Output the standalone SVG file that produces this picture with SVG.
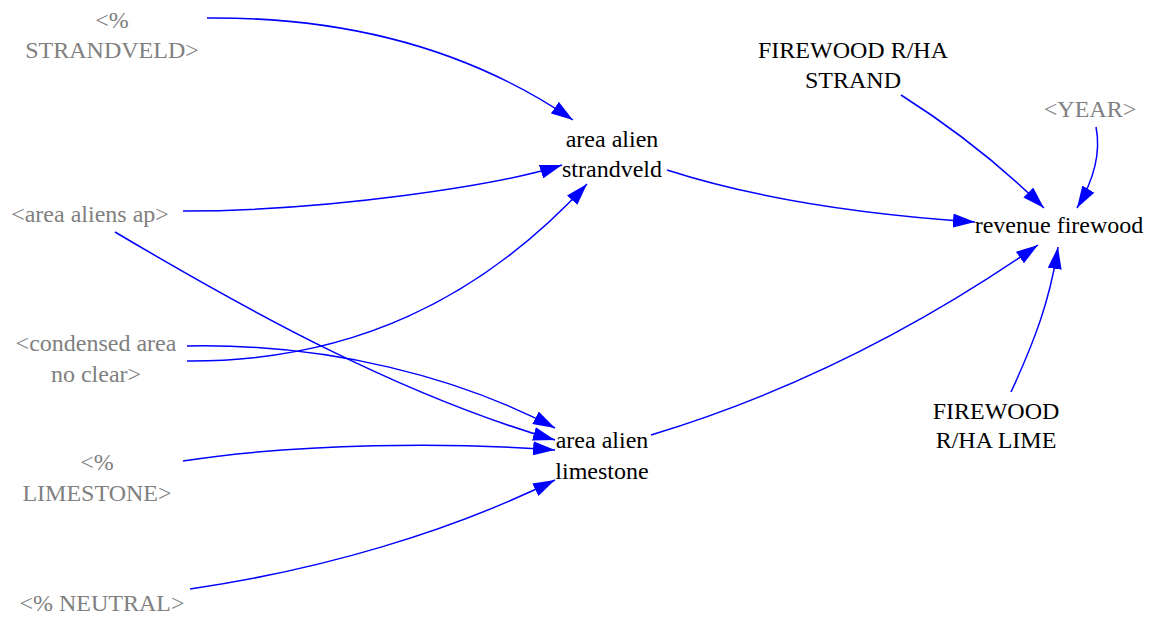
<svg xmlns="http://www.w3.org/2000/svg" width="1156" height="617" viewBox="0 0 1156 617">
  <style>
    .shadow { fill: #808080; }
    .var { fill: #000000; }
    .link { fill: none; stroke: #0000ff; stroke-width: 1.5; marker-end: url(#head); }
  </style>
  <defs>
    <marker id="head" viewBox="0 0 22 14" refX="22" refY="7" markerWidth="22" markerHeight="14" markerUnits="userSpaceOnUse" orient="auto">
      <path d="M0,0 L22,7 L0,14 z" fill="#0000ff"/>
    </marker>
  </defs>
  <rect width="1156" height="617" fill="#ffffff"/>

  <g id="connectors">
    <path class="link" d="M207,18 Q421,16 573,120"/>
    <path class="link" d="M183,211 C330,211 500,185 562,165"/>
    <path class="link" d="M187,361 C350,362 480,300 587,184"/>
    <path class="link" d="M187,346 C330,343 460,378 555,428"/>
    <path class="link" d="M115,232 C250,312 400,395 555,440"/>
    <path class="link" d="M183,461 C300,443 450,442 555,450"/>
    <path class="link" d="M190,589 C320,570 450,532 555,480"/>
    <path class="link" d="M667,170 C760,200 870,215 975,222"/>
    <path class="link" d="M651,435 C800,390 930,320 1038,245"/>
    <path class="link" d="M901,95 Q980,145 1044,208"/>
    <path class="link" d="M1096,127 C1101,152 1095,178 1077,208"/>
    <path class="link" d="M1011,392 C1035,340 1050,300 1058,247"/>
  </g>

  <g id="pct-strandveld"><text class="shadow" font-family="Liberation Serif" font-size="24" text-anchor="middle" x="112" y="28">&lt;%</text><text class="shadow" font-family="Liberation Serif" font-size="24" text-anchor="middle" x="112" y="58">STRANDVELD&gt;</text></g>
  <g id="area-aliens-ap"><text class="shadow" font-family="Liberation Serif" font-size="24" text-anchor="middle" x="90" y="222">&lt;area aliens ap&gt;</text></g>
  <g id="condensed-area"><text class="shadow" font-family="Liberation Serif" font-size="24" text-anchor="middle" x="96" y="351">&lt;condensed area</text><text class="shadow" font-family="Liberation Serif" font-size="24" text-anchor="middle" x="96" y="382">no clear&gt;</text></g>
  <g id="pct-limestone"><text class="shadow" font-family="Liberation Serif" font-size="24" text-anchor="middle" x="97" y="470">&lt;%</text><text class="shadow" font-family="Liberation Serif" font-size="24" text-anchor="middle" x="97" y="501">LIMESTONE&gt;</text></g>
  <g id="pct-neutral"><text class="shadow" font-family="Liberation Serif" font-size="24" text-anchor="middle" x="102" y="611">&lt;% NEUTRAL&gt;</text></g>
  <g id="area-alien-strandveld"><text class="var" font-family="Liberation Serif" font-size="24" text-anchor="middle" x="612" y="147">area alien</text><text class="var" font-family="Liberation Serif" font-size="24" text-anchor="middle" x="612" y="177">strandveld</text></g>
  <g id="area-alien-limestone"><text class="var" font-family="Liberation Serif" font-size="24" text-anchor="middle" x="602" y="448">area alien</text><text class="var" font-family="Liberation Serif" font-size="24" text-anchor="middle" x="602" y="479">limestone</text></g>
  <g id="firewood-strand"><text class="var" font-family="Liberation Serif" font-size="24" text-anchor="middle" x="853" y="58">FIREWOOD R/HA</text><text class="var" font-family="Liberation Serif" font-size="24" text-anchor="middle" x="853" y="88">STRAND</text></g>
  <g id="year"><text class="shadow" font-family="Liberation Serif" font-size="24" text-anchor="middle" x="1090" y="117">&lt;YEAR&gt;</text></g>
  <g id="revenue-firewood"><text class="var" font-family="Liberation Serif" font-size="24" text-anchor="middle" x="1059" y="233">revenue firewood</text></g>
  <g id="firewood-lime"><text class="var" font-family="Liberation Serif" font-size="24" text-anchor="middle" x="996" y="419">FIREWOOD</text><text class="var" font-family="Liberation Serif" font-size="24" text-anchor="middle" x="996" y="448">R/HA LIME</text></g>
</svg>
